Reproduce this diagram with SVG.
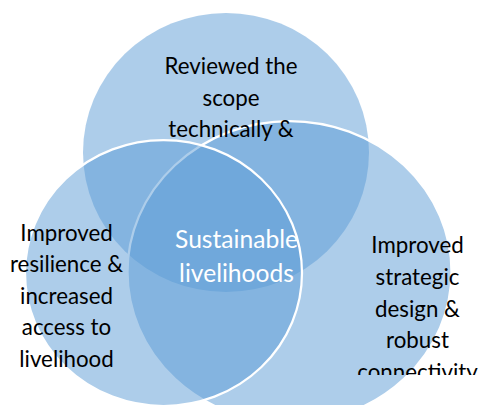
<svg xmlns="http://www.w3.org/2000/svg" width="479" height="405" viewBox="0 0 479 405">
  <style>
    .c { fill: #5B9BD5; fill-opacity: 0.5; }
    .s { stroke: #FFFFFF; stroke-width: 2.25; }
    .t { font-family: Lato, "Liberation Sans", sans-serif; font-size: 22.3px; fill: #000000; text-anchor: middle; }
    .w { font-family: Lato, "Liberation Sans", sans-serif; font-size: 24.6px; fill: #FFFFFF; text-anchor: middle; }
  </style>
  <defs>
    <clipPath id="clipRight">
      <rect x="330" y="220" width="149" height="155"/>
    </clipPath>
  </defs>
  <rect width="479" height="405" fill="#FFFFFF"/>
  <g id="node-top">
    <ellipse class="c" cx="226" cy="152.5" rx="143" ry="139.5"/>
  </g>
  <g id="node-right">
    <ellipse class="c s" cx="289.5" cy="272" rx="162" ry="151"/>
  </g>
  <g id="node-left">
    <ellipse class="c s" cx="163.5" cy="273" rx="138.5" ry="133"/>
  </g>
  <g id="node-top-label">
    <text class="t" x="231" y="74">Reviewed the</text>
    <text class="t" x="231" y="105.5">scope</text>
    <text class="t" x="231" y="137">technically &amp;</text>
  </g>
  <g id="node-left-label">
    <text class="t" x="66.5" y="240.5">Improved</text>
    <text class="t" x="66.5" y="272">resilience &amp;</text>
    <text class="t" x="66.5" y="303.5">increased</text>
    <text class="t" x="66.5" y="335">access to</text>
    <text class="t" x="66.5" y="366.5">livelihood</text>
  </g>
  <g id="node-right-label" clip-path="url(#clipRight)">
    <text class="t" x="417.5" y="253">Improved</text>
    <text class="t" x="417.5" y="285">strategic</text>
    <text class="t" x="417.5" y="316.5">design &amp;</text>
    <text class="t" x="417.5" y="348">robust</text>
    <text class="t" x="417.5" y="379.5">connectivity</text>
  </g>
  <g id="node-center-label">
    <text class="w" x="236.5" y="247.5">Sustainable</text>
    <text class="w" x="236.5" y="281.5">livelihoods</text>
  </g>
</svg>
